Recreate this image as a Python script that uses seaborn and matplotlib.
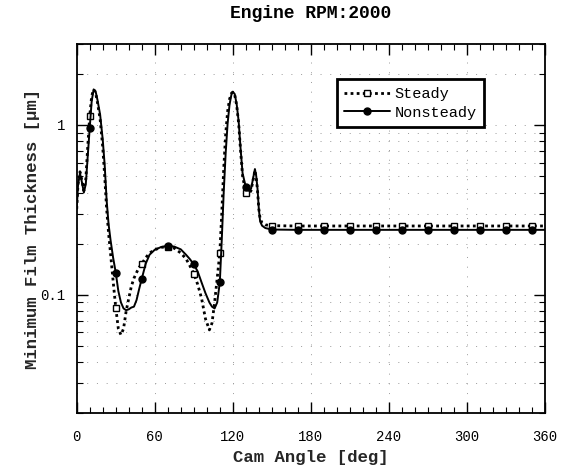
import numpy as np
import pandas as pd
import matplotlib
matplotlib.use('Agg')
import matplotlib.pyplot as plt
import seaborn as sns
from matplotlib.ticker import MultipleLocator, FixedLocator, FixedFormatter, LogLocator, NullFormatter

# ---- data ----
angle = [0, 1, 2.5, 4, 5.5, 7, 8.5, 10, 11.5, 13, 14.5, 16, 18, 20, 21.5, 23, 24.5, 26, 28, 30,
         32, 34, 36, 38, 40, 42, 44, 46, 48, 50, 53, 56, 60, 65, 70, 75, 80, 84, 87, 90,
         93, 96, 99, 102, 104, 106, 108, 110, 111.5, 113, 114.5, 116, 117.5, 119, 120,
         121.5, 123, 124.5, 126, 127.5, 130, 132, 134, 135.5, 137, 138, 139, 140, 141,
         142.5, 145, 150, 170, 190, 210, 230, 250, 270, 290, 310, 330, 350, 360]

nonsteady = [0.32, 0.44, 0.52, 0.46, 0.40, 0.45, 0.66, 0.96, 1.38, 1.62, 1.58, 1.40, 1.15, 0.82,
             0.58, 0.36, 0.26, 0.21, 0.165, 0.135,
             0.105, 0.090, 0.083, 0.081, 0.082, 0.084, 0.085, 0.093, 0.108, 0.124, 0.152, 0.172,
             0.184, 0.191, 0.194, 0.192, 0.185, 0.172, 0.162, 0.151,
             0.137, 0.118, 0.102, 0.090, 0.085, 0.083, 0.090, 0.118, 0.21, 0.40, 0.68, 1.02,
             1.32, 1.52, 1.57,
             1.52, 1.32, 1.05, 0.72, 0.52, 0.43, 0.41, 0.42, 0.48, 0.55, 0.50, 0.42, 0.32, 0.27,
             0.255, 0.247, 0.242, 0.241, 0.241, 0.241, 0.241, 0.241, 0.241, 0.241, 0.241, 0.241,
             0.241, 0.241]

steady = [0.32, 0.45, 0.53, 0.47, 0.41, 0.48, 0.75, 1.13, 1.48, 1.62, 1.55, 1.35, 1.08, 0.74,
          0.50, 0.32, 0.23, 0.175, 0.12, 0.084,
          0.063, 0.058, 0.063, 0.080, 0.095, 0.112, 0.125, 0.135, 0.145, 0.152, 0.165, 0.176,
          0.184, 0.190, 0.192, 0.188, 0.176, 0.163, 0.148, 0.133,
          0.115, 0.095, 0.072, 0.062, 0.068, 0.090, 0.125, 0.176, 0.30, 0.55, 0.88, 1.20,
          1.42, 1.54, 1.56,
          1.50, 1.30, 1.02, 0.70, 0.50, 0.40, 0.39, 0.41, 0.47, 0.54, 0.49, 0.41, 0.32, 0.28,
          0.265, 0.258, 0.255, 0.254, 0.254, 0.254, 0.254, 0.254, 0.254, 0.254, 0.254, 0.254,
          0.254, 0.254]

marker_angles = [10, 30, 50, 70, 90, 110, 130, 150, 170, 190, 210, 230, 250, 270, 290, 310, 330, 350]
x_ticks = [0, 60, 120, 180, 240, 300, 360]
y_ticks = [0.1, 1]
y_tick_labels = ['0.1', '1']

title = 'Engine RPM:2000'
xlabel = 'Cam Angle [deg]'
ylabel = 'Minimum Film Thickness [\u00b5m]'

# ---- style ----
sns.set_style('ticks')
plt.rcParams['font.family'] = ['Liberation Mono', 'DejaVu Sans Mono']
plt.rcParams['axes.edgecolor'] = 'black'
plt.rcParams['text.color'] = 'black'

df = pd.DataFrame({'angle': angle, 'Steady': steady, 'Nonsteady': nonsteady})
mk = [a in marker_angles for a in angle]

fig = plt.figure(figsize=(5.67, 4.70), dpi=100)
ax = fig.add_axes([0.1353, 0.1206, 0.8259, 0.7858])

sns.lineplot(data=df, x='angle', y='Steady', ax=ax, color='black',
             linestyle=(0, (1, 1.2)), linewidth=2.0, marker='s', markevery=mk,
             markersize=5, markerfacecolor='white', markeredgecolor='black',
             markeredgewidth=1.0, label='Steady')
sns.lineplot(data=df, x='angle', y='Nonsteady', ax=ax, color='black',
             linestyle='-', linewidth=1.4, marker='o', markevery=mk,
             markersize=5, markerfacecolor='black', markeredgecolor='black',
             markeredgewidth=1.0, label='Nonsteady')

ax.set_yscale('log')
ax.set_xlim(0, 360)
ax.set_ylim(0.02, 3)

ax.xaxis.set_major_locator(FixedLocator(x_ticks))
ax.xaxis.set_minor_locator(MultipleLocator(10))
ax.yaxis.set_major_locator(FixedLocator(y_ticks))
ax.yaxis.set_major_formatter(FixedFormatter(y_tick_labels))
ax.yaxis.set_minor_locator(LogLocator(base=10, subs=np.arange(2, 10)))
ax.yaxis.set_minor_formatter(NullFormatter())

ax.tick_params(axis='both', which='major', direction='in', top=True, right=True,
               length=8, width=1.0, labelsize=10, colors='black')
ax.tick_params(axis='both', which='minor', direction='in', top=True, right=True,
               length=4, width=0.8, colors='black')
ax.tick_params(axis='x', which='major', pad=12)
ax.tick_params(axis='y', which='major', pad=8)

for s in ax.spines.values():
    s.set_linewidth(1.3)
    s.set_color('black')

ax.grid(True, which='major', axis='x', color='#9a9a9a', linestyle=(0, (1, 9)), linewidth=0.7)
ax.grid(True, which='both', axis='y', color='#9a9a9a', linestyle=(0, (1, 9)), linewidth=0.7)

ax.set_title(title, fontsize=13, fontweight='bold', pad=19)
ax.set_xlabel(xlabel, fontsize=12.5, fontweight='bold', labelpad=4)
ax.set_ylabel(ylabel, fontsize=12.5, fontweight='bold', labelpad=0)

handles, labels = ax.get_legend_handles_labels()
leg = ax.legend(handles, labels, loc='upper left', bbox_to_anchor=(0.555, 0.904),
                borderaxespad=0, fontsize=11, frameon=True, fancybox=False,
                edgecolor='black', framealpha=1, handlelength=3.0, borderpad=0.5,
                labelspacing=0.3, handletextpad=0.3)
leg.get_frame().set_linewidth(2.0)

fig.savefig('out.png', dpi=100)
